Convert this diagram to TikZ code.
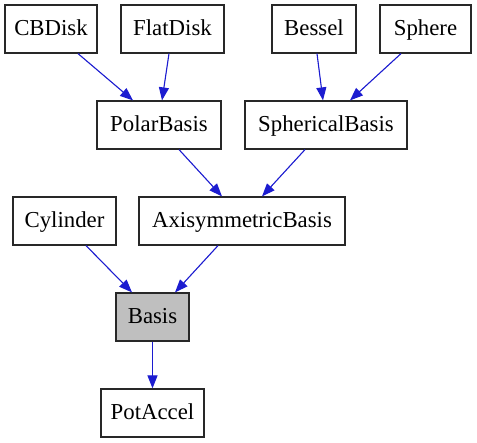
\documentclass[tikz,border=0pt]{standalone}
\usepackage{fontspec}
\setmainfont{Liberation Serif}
\usepackage{xcolor}
\usepackage{tikz}
\usetikzlibrary{
  arrows.meta,
  positioning
}
\definecolor{edgeblue}{RGB}{28,28,208}
\definecolor{boxline}{RGB}{40,40,40}
\definecolor{basisgray}{RGB}{191,191,191}
\tikzset{
  classbox/.style={
    draw=boxline,
    fill=white,
    line width=0.6pt,
    minimum height=24pt,
    minimum width=#1,
    inner sep=0pt,
    text height=9.8pt,
    text depth=3pt,
    align=center,
    font=\fontsize{11.4}{13}\selectfont
  },
  focus/.style={
    fill=basisgray
  },
  inherit/.style={
    -{Triangle[length=6.5pt,width=5pt]},
    line width=0.55pt,
    draw=edgeblue,
    fill=edgeblue
  }
}

\begin{document}
\begin{tikzpicture}[x=0.5pt,y=-0.5pt]
\useasboundingbox (0,0) rectangle (477,443);

% top row
\node[classbox=46pt]   (cbdisk)    at (51,29)    {CBDisk};
\node[classbox=51.5pt] (flatdisk)  at (172.5,29) {FlatDisk};
\node[classbox=42pt]   (bessel)    at (314,29)   {Bessel};
\node[classbox=45.5pt] (sphere)    at (425.5,29) {Sphere};

% second row
\node[classbox=62pt] (polar)     at (159,125) {PolarBasis};
\node[classbox=81pt] (spherical) at (326,125) {SphericalBasis};

% third row
\node[classbox=51.5pt] (cylinder) at (64.5,221) {Cylinder};
\node[classbox=103pt]  (axisym)   at (242,221)  {AxisymmetricBasis};

% bottom
\node[classbox=36.5pt,focus] (basis)    at (152.5,317) {Basis};
\node[classbox=51.5pt]       (potaccel) at (152.5,413) {PotAccel};

% edges
\draw[inherit] ([xshift=13.5pt]cbdisk.south)     -- ([xshift=-13pt]polar.north);
\draw[inherit] ([xshift=-1.75pt]flatdisk.south)  -- ([xshift=1.5pt]polar.north);
\draw[inherit] ([xshift=1.5pt]bessel.south)      -- ([xshift=-1.5pt]spherical.north);
\draw[inherit] ([xshift=-12.25pt]sphere.south)   -- ([xshift=12pt]spherical.north);
\draw[inherit] ([xshift=10pt]polar.south)        -- ([xshift=-10pt]axisym.north);
\draw[inherit] ([xshift=-10.5pt]spherical.south) -- ([xshift=10pt]axisym.north);
\draw[inherit] ([xshift=10.75pt]cylinder.south)  -- ([xshift=-10.25pt]basis.north);
\draw[inherit] ([xshift=-12pt]axisym.south)      -- ([xshift=11.25pt]basis.north);
\draw[inherit] (basis.south) -- (potaccel.north);
\end{tikzpicture}
\end{document}
